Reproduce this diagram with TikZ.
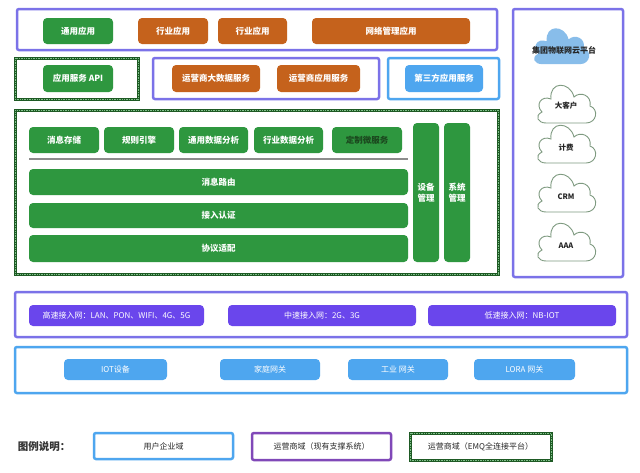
\documentclass[tikz,border=0pt]{standalone}
\usepackage{fontspec}
\setmainfont{Noto Sans CJK SC}
\definecolor{appgreen}{HTML}{2E973F}
\definecolor{oporange}{HTML}{C5621C}
\definecolor{netpurple}{HTML}{6A46EC}
\definecolor{devblue}{HTML}{4EA6EF}
\definecolor{framepurple}{HTML}{7B72E8}
\definecolor{legpurple}{HTML}{8048B8}
\definecolor{framegreen}{HTML}{1E5A24}
\definecolor{cloudblue}{HTML}{88BDEA}
\definecolor{cloudline}{HTML}{7E9A80}
\definecolor{darktext}{HTML}{1B481E}
\def\archblock[#1](#2)(#3,#4)(#5,#6)#7% Syntax: [style] (name) (left,top) (right,bottom) {text}
{ \node[#1, minimum width=#5-#3, minimum height=#6-#4] (#2) at ({(#3+#5)/2},{(#4+#6)/2}) {#7}; }
\tikzset{
	block/.style={rounded corners=4pt, text=white, inner sep=0pt, align=center,
		font=\bfseries\fontsize{8.5}{10.5}\selectfont},
	greenblock/.style={block, fill=appgreen},
	orangeblock/.style={block, fill=oporange},
	netblock/.style={block, fill=netpurple, font=\fontsize{8}{10}\selectfont},
	devblock/.style={block, fill=devblue, font=\fontsize{8}{10}\selectfont},
	opframe/.style={draw=framepurple, line width=2.5pt, rounded corners=2pt, inner sep=0pt},
	userframe/.style={draw=devblue, line width=2.5pt, rounded corners=2pt, inner sep=0pt},
	emqframe/.style={draw=framegreen, line width=3pt, inner sep=0pt,
		postaction={draw=appgreen!60, line width=1pt, dash pattern=on 0.8pt off 0.9pt}},
	legendbox/.style={font=\fontsize{8}{10}\selectfont, text=black!85},
	cloudtext/.style={font=\bfseries\fontsize{7.5}{9}\selectfont, text=black!85},
	cloudicon/.pic={
		\path[pic actions] (-20,17) -- (20,17) .. controls (31,17) and (33,3) .. (24,0)
		.. controls (26,-11) and (14,-15) .. (8,-9)
		.. controls (4,-25) and (-17,-25) .. (-15,-7)
		.. controls (-25,-11) and (-31,-1) .. (-24,6)
		.. controls (-32,10) and (-28,17) .. (-20,17) -- cycle;
	},
}

\begin{document}
\begin{tikzpicture}[x=1pt,y=-1pt]
	\fill[white] (0,0) rectangle (640,472);
	\useasboundingbox (0,0) rectangle (640,472);
	% applications
	\archblock[opframe](appFrame)(17,9)(497,50){};
	\archblock[greenblock](appGeneral)(43,18)(113,44){通用应用};
	\archblock[orangeblock](appIndustryA)(138,18)(208,44){行业应用};
	\archblock[orangeblock](appIndustryB)(218,18)(287,44){行业应用};
	\archblock[orangeblock](appNetMgmt)(312,18)(470,44){网络管理应用};
	% services
	\archblock[emqframe](apiFrame)(15,58)(138,99){};
	\archblock[greenblock](appApi)(43,65)(113,92){应用服务 API};
	\archblock[opframe](opFrame)(153,58)(379,99){};
	\archblock[orangeblock](opBigData)(172,65)(260,92){运营商大数据服务};
	\archblock[orangeblock](opService)(277,65)(360,92){运营商应用服务};
	\archblock[userframe](thirdFrame)(388,58)(499,99){};
	\archblock[block, fill=devblue](thirdService)(405,65)(483,92){第三方应用服务};
	% platform
	\archblock[emqframe](emqFrame)(15,110)(498,274){};
	\archblock[greenblock](msgStore)(29,127)(99,153){消息存储};
	\archblock[greenblock](ruleEngine)(104,127)(174,153){规则引擎};
	\archblock[greenblock](dataGeneral)(179,127)(248,153){通用数据分析};
	\archblock[greenblock](dataIndustry)(254,127)(323,153){行业数据分析};
	\archblock[greenblock, text=darktext](microService)(332,127)(402,153){定制微服务};
	\draw[black!45, line width=2pt] (29,159) -- (408,159);
	\archblock[greenblock](msgRoute)(29,169)(408,195){消息路由};
	\archblock[greenblock](accessAuth)(29,203)(408,228){接入认证};
	\archblock[greenblock](protoAdapt)(29,235)(408,262){协议适配};
	\archblock[greenblock](devMgmt)(413,123)(439,262){设备\\管理};
	\archblock[greenblock](sysMgmt)(444,123)(470,262){系统\\管理};
	% group cloud
	\archblock[opframe](cloudFrame)(513,9)(623,277){};
	\pic[fill=cloudblue, scale=0.95] (platCloud) at (561,48) {cloudicon};
	\node[cloudtext, font=\bfseries\fontsize{8}{10}\selectfont] (platLabel) at (564,50) {集团物联网云平台};
	\pic[draw=cloudline, fill=white, line width=0.9pt] (bigCustomerCloud) at (566,106) {cloudicon};
	\node[cloudtext] (bigCustomer) at (566,106) {大客户};
	\pic[draw=cloudline, fill=white, line width=0.9pt] (billingCloud) at (566,146) {cloudicon};
	\node[cloudtext] (billing) at (566,148) {计费};
	\pic[draw=cloudline, fill=white, line width=0.9pt] (crmCloud) at (566,195) {cloudicon};
	\node[cloudtext] (crm) at (566,197) {CRM};
	\pic[draw=cloudline, fill=white, line width=0.9pt] (aaaCloud) at (566,244) {cloudicon};
	\node[cloudtext] (aaa) at (566,246) {AAA};
	% access networks
	\archblock[opframe](netFrame)(15,292)(627,337){};
	\archblock[netblock](netHigh)(29,305)(204,326){高速接入网：LAN、PON、WIFI、4G、5G};
	\archblock[netblock](netMid)(228,305)(416,326){中速接入网：2G、3G};
	\archblock[netblock](netLow)(428,305)(616,326){低速接入网：NB-IOT};
	% devices
	\archblock[userframe](devFrame)(15,347)(627,393){};
	\archblock[devblock](iotDevice)(64,359)(167,380){IOT设备};
	\archblock[devblock](homeGateway)(220,359)(320,380){家庭网关};
	\archblock[devblock](industryGateway)(348,359)(448,380){工业 网关};
	\archblock[devblock](loraGateway)(474,359)(575,380){LORA 网关};
	% legend
	\node[font=\bfseries\fontsize{10.5}{12}\selectfont, text=black!80] (legendTitle) at (44,447) {图例说明：};
	\archblock[userframe, legendbox](legendUser)(94,433)(233,459){用户企业域};
	\archblock[draw=legpurple, line width=2.5pt, rounded corners=2pt, inner sep=0pt, legendbox](legendOp)(252,433)(391,460){运营商域（现有支撑系统）};
	\archblock[emqframe, legendbox](legendEmq)(410,433)(551,460){运营商域（EMQ全连接平台）};
\end{tikzpicture}
\end{document}
